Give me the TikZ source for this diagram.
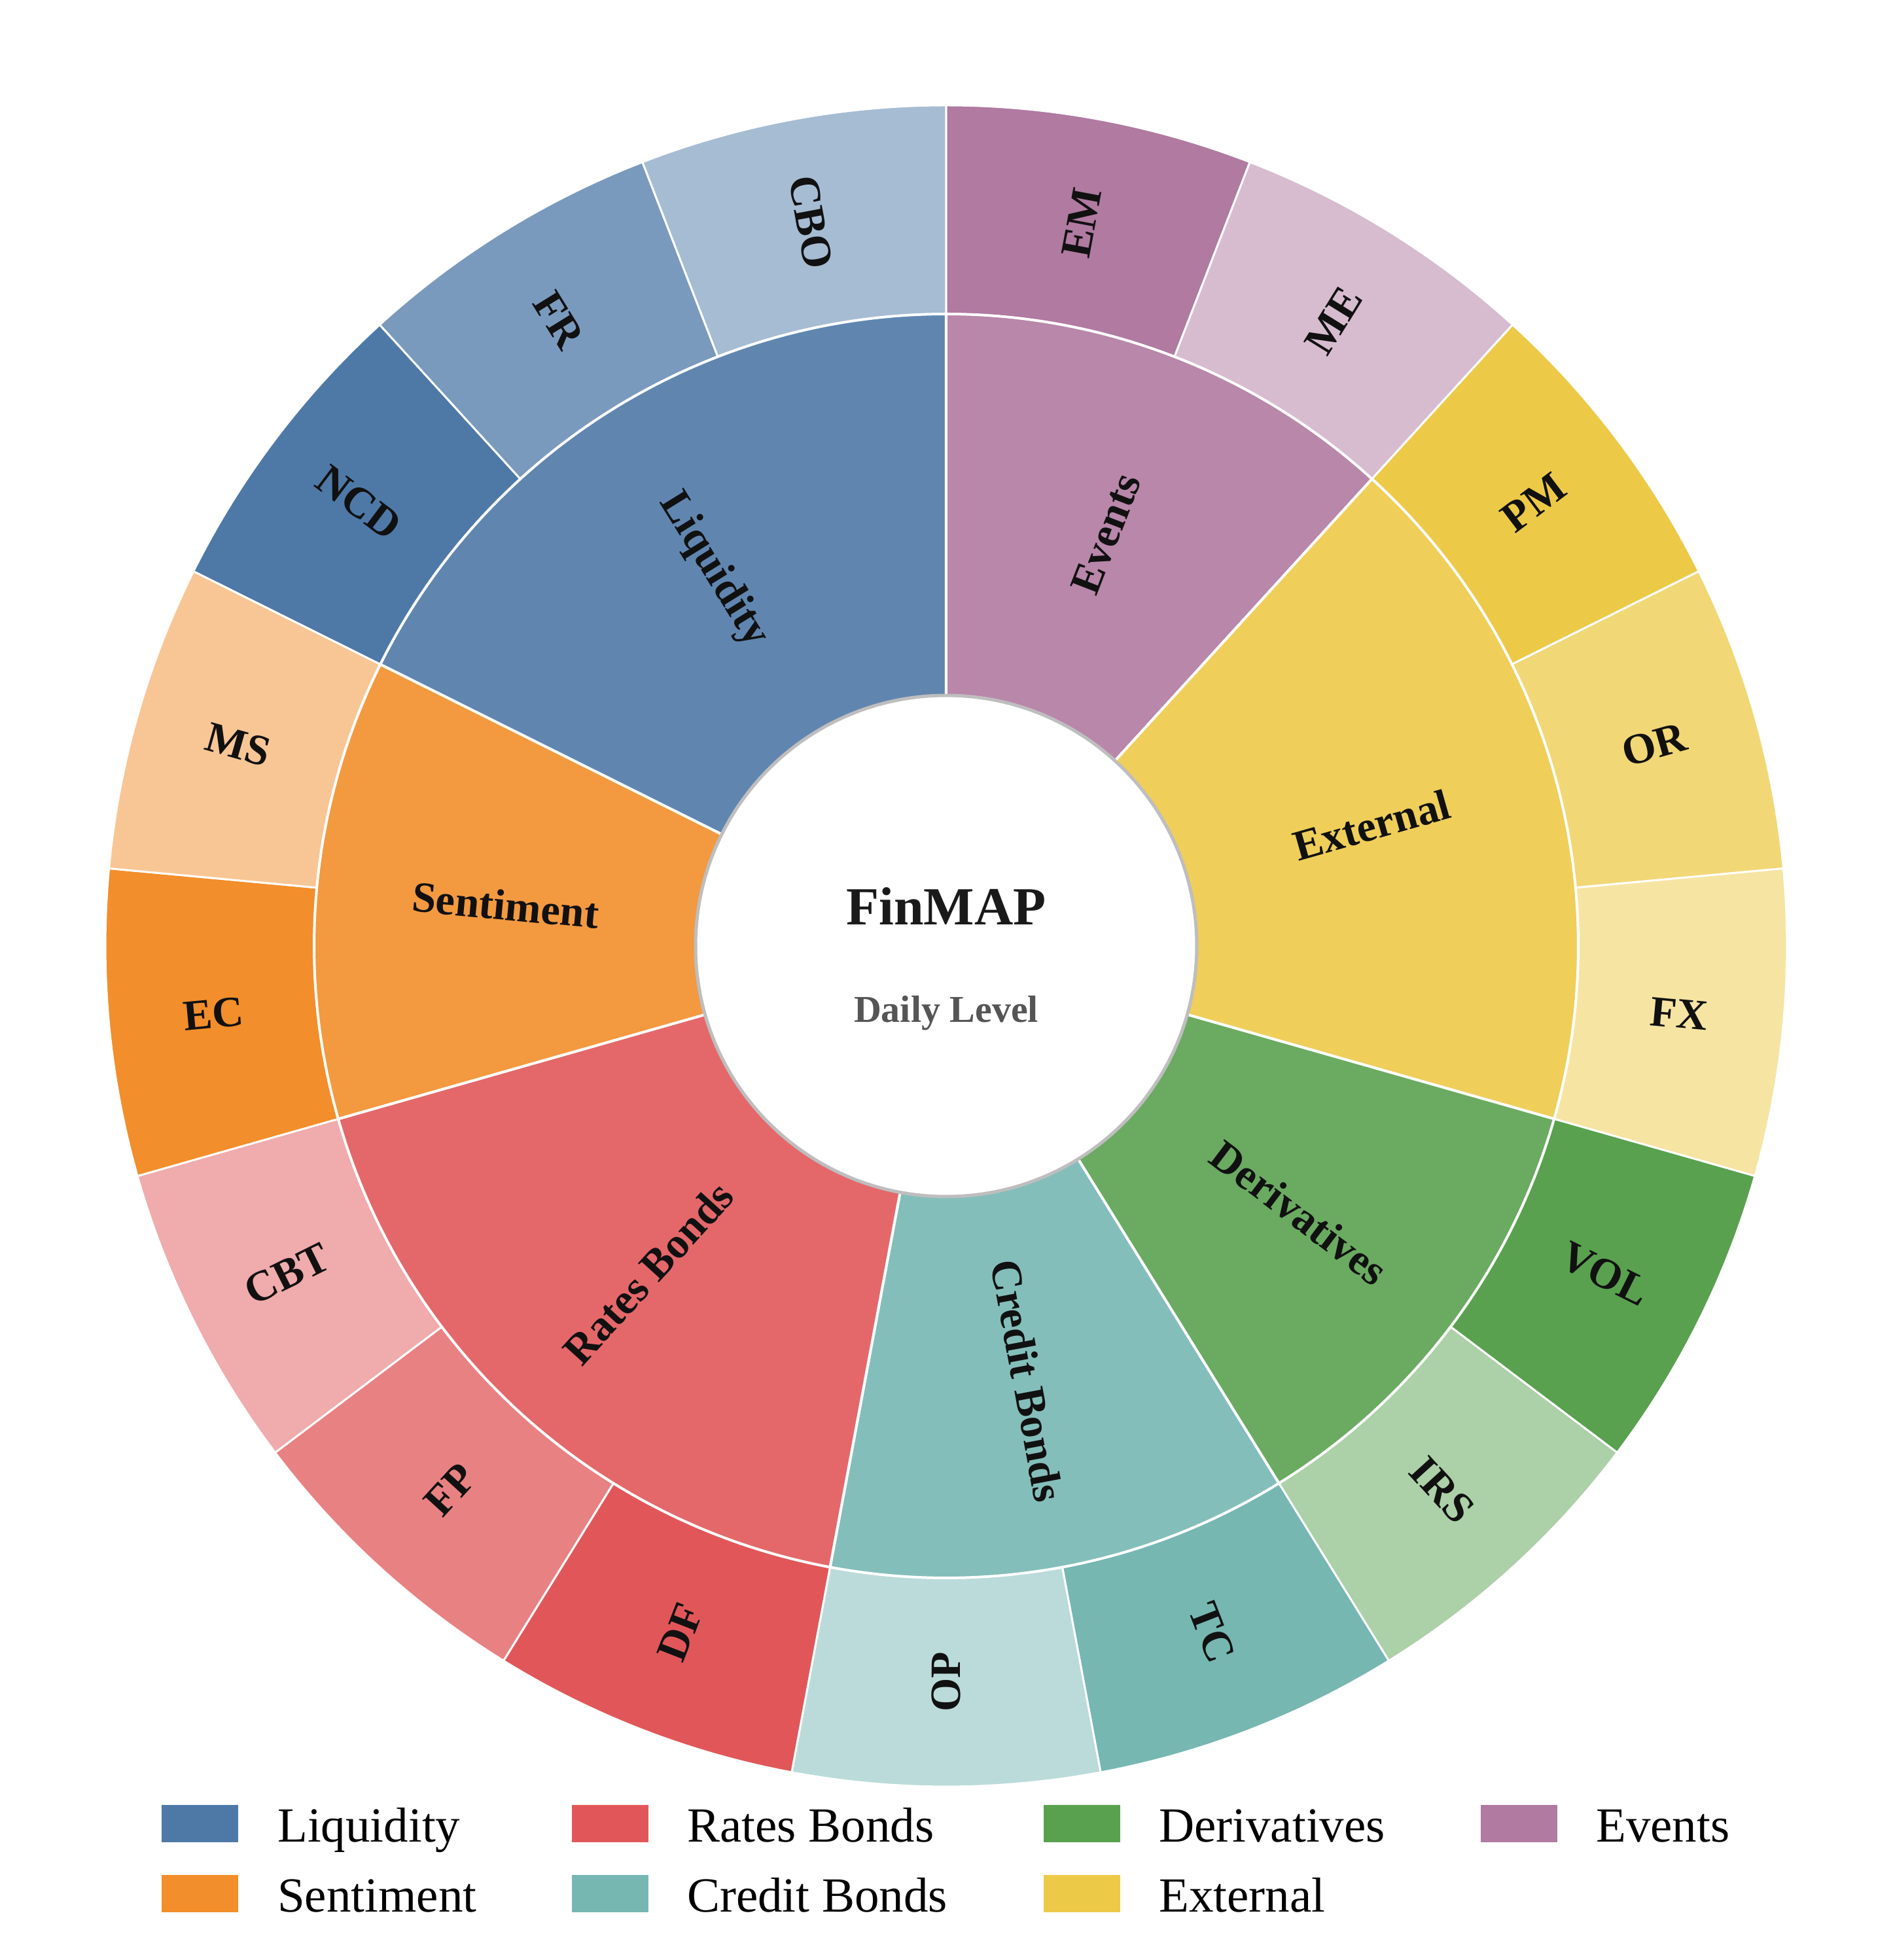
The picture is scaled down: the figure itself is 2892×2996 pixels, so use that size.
\documentclass[tikz,border=0pt]{standalone}
\usepackage{fontspec}
\setmainfont{Liberation Serif}
\definecolor{cLiq}{HTML}{4E79A7}
\definecolor{cSen}{HTML}{F28E2B}
\definecolor{cRat}{HTML}{E15759}
\definecolor{cCre}{HTML}{76B7B2}
\definecolor{cDer}{HTML}{59A14F}
\definecolor{cExt}{HTML}{EDC948}
\definecolor{cEve}{HTML}{B07AA1}
\definecolor{labtext}{HTML}{111111}
\definecolor{titletext}{HTML}{1A1A1A}
\definecolor{subtext}{HTML}{555555}
\definecolor{ringgray}{HTML}{BEBEBE}
\begin{document}
\begin{tikzpicture}[x=1pt,y=1pt,
  lab/.style={font=\fontsize{66}{66}\selectfont\bfseries, text=labtext, inner sep=0pt},
  legpatch/.style={minimum width=117pt, minimum height=57pt, inner sep=0pt, draw=none},
  legtext/.style={font=\fontsize{75}{75}\selectfont, text=black, inner sep=0pt, anchor=base west}]
\useasboundingbox (-1446,-1550) rectangle (1446,1446);
% outer ring
\foreach \i/\t/\c/\r in {0/EM/cEve/79.41, 1/ME/cEve!50!white/58.24, 2/PM/cExt/37.06,
  3/OR/cExt!75!white/15.88, 4/FX/cExt!50!white/-5.29, 5/VOL/cDer/-26.47,
  6/IRS/cDer!50!white/-47.65, 7/TC/cCre/-68.82, 8/OP/cCre!50!white/90,
  9/DF/cRat/68.82, 10/FP/cRat!75!white/47.65, 11/CBT/cRat!50!white/26.47,
  12/EC/cSen/5.29, 13/MS/cSen!50!white/-15.88, 14/NCD/cLiq/-37.06,
  15/FR/cLiq!75!white/-58.24, 16/CBO/cLiq!50!white/-79.41}{
  \pgfmathsetmacro\sa{90-\i*360/17}
  \pgfmathsetmacro\ea{90-(\i+1)*360/17}
  \pgfmathsetmacro\ma{90-(\i+0.5)*360/17}
  \path[fill=\c, draw=white, line width=3pt]
    (\sa:966) arc[start angle=\sa, end angle=\ea, radius=966]
    -- (\ea:1285) arc[start angle=\ea, end angle=\sa, radius=1285] -- cycle;
  \node[lab, rotate=\r] (o\i) at (\ma:1125) {\t};
}
% middle ring
\foreach \nm/\s/\e/\c/\r in {Events/0/2/cEve/68.82, External/2/5/cExt/15.88,
  Derivatives/5/7/cDer/-37.06, Credit Bonds/7/9/cCre/-79.41,
  Rates Bonds/9/12/cRat/47.65, Sentiment/12/14/cSen/-5.29,
  Liquidity/14/17/cLiq/-58.24}{
  \pgfmathsetmacro\sa{90-\s*360/17}
  \pgfmathsetmacro\ea{90-\e*360/17}
  \pgfmathsetmacro\ma{(\sa+\ea)/2}
  \path[fill=\c!90!white, draw=white, line width=4pt]
    (\sa:380) arc[start angle=\sa, end angle=\ea, radius=380]
    -- (\ea:966) arc[start angle=\ea, end angle=\sa, radius=966] -- cycle;
  \node[lab, rotate=\r] (m\s) at (\ma:676) {\nm};
}
% centre
\path[fill=white, draw=ringgray, line width=5pt] (0,0) circle[radius=383];
\node[font=\fontsize{82}{82}\selectfont\bfseries, text=titletext, anchor=base, inner sep=0pt] (title) at (0,33) {FinMAP};
\node[font=\fontsize{58}{58}\selectfont\bfseries, text=subtext, anchor=base, inner sep=0pt] (sub) at (0,-116) {Daily Level};
% legend
\node[legpatch, fill=cLiq] (lp1) at (-1140,-1341.5) {};
\node[legtext] (lt1) at (-1022,-1369) {Liquidity};
\node[legpatch, fill=cSen] (lp2) at (-1140,-1448) {};
\node[legtext] (lt2) at (-1022,-1476) {Sentiment};
\node[legpatch, fill=cRat] (lp3) at (-513.5,-1341.5) {};
\node[legtext] (lt3) at (-396,-1369) {Rates Bonds};
\node[legpatch, fill=cCre] (lp4) at (-513.5,-1448) {};
\node[legtext] (lt4) at (-396,-1476) {Credit Bonds};
\node[legpatch, fill=cDer] (lp5) at (207.5,-1341.5) {};
\node[legtext] (lt5) at (325,-1369) {Derivatives};
\node[legpatch, fill=cExt] (lp6) at (207.5,-1448) {};
\node[legtext] (lt6) at (325,-1476) {External};
\node[legpatch, fill=cEve] (lp7) at (875.5,-1341.5) {};
\node[legtext] (lt7) at (993,-1369) {Events};
\end{tikzpicture}
\end{document}
